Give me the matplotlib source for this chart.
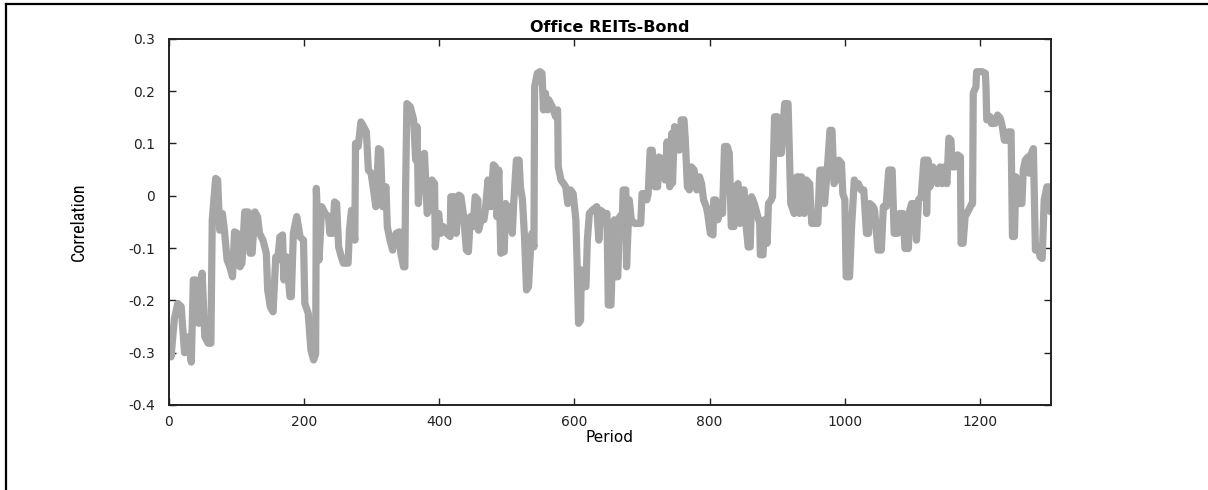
import matplotlib
matplotlib.use("Agg")
import matplotlib.pyplot as plt
from matplotlib.lines import Line2D
from matplotlib import font_manager

# rolling correlation
period = [0, 3, 8, 13, 18, 23, 28, 33, 36, 40, 44, 49, 53, 58, 62, 64, 69, 72, 75, 79,
          82, 86, 90, 94, 97, 101, 105, 108, 112, 117, 120, 123, 127, 131, 134, 139, 144, 146, 150, 154,
          158, 161, 164, 168, 170, 174, 179, 181, 184, 189, 194, 199, 201, 206, 210, 214, 217, 218, 222, 226,
          231, 236, 238, 242, 245, 248, 251, 255, 258, 265, 267, 270, 275, 276, 280, 284, 288, 292, 295, 299,
          302, 306, 310, 313, 316, 321, 323, 327, 331, 336, 341, 343, 347, 349, 350, 352, 357, 362, 365, 367,
          369, 373, 378, 382, 387, 389, 393, 394, 399, 402, 406, 411, 416, 417, 422, 425, 429, 432, 436, 440,
          443, 446, 450, 453, 457, 458, 462, 466, 468, 472, 476, 480, 483, 485, 488, 491, 496, 498, 501, 505,
          508, 510, 514, 518, 520, 523, 526, 529, 532, 535, 537, 540, 541, 545, 549, 552, 554, 557, 560, 562,
          567, 572, 575, 576, 580, 584, 587, 590, 594, 598, 602, 604, 606, 609, 610, 613, 617, 619, 622, 626,
          633, 636, 639, 644, 648, 650, 654, 656, 659, 661, 664, 667, 671, 672, 676, 677, 681, 684, 689, 693,
          698, 700, 703, 707, 709, 712, 715, 719, 723, 725, 730, 734, 737, 741, 744, 745, 748, 752, 755, 758,
          762, 764, 767, 770, 773, 777, 781, 785, 788, 791, 795, 797, 801, 805, 806, 809, 812, 816, 819, 822,
          826, 829, 832, 836, 838, 842, 845, 847, 851, 854, 857, 860, 862, 866, 870, 874, 875, 879, 881, 885,
          887, 891, 893, 896, 900, 902, 906, 911, 916, 918, 920, 925, 929, 932, 933, 936, 940, 943, 948, 951,
          955, 960, 963, 968, 970, 974, 978, 981, 984, 987, 991, 995, 997, 1000, 1002, 1007, 1010, 1014, 1017, 1020,
          1024, 1028, 1032, 1035, 1037, 1042, 1044, 1049, 1054, 1057, 1061, 1065, 1070, 1073, 1078, 1081, 1086, 1089, 1094, 1096,
          1099, 1103, 1106, 1109, 1113, 1117, 1120, 1121, 1123, 1126, 1130, 1134, 1137, 1141, 1144, 1147, 1151, 1154, 1157, 1159,
          1163, 1167, 1171, 1172, 1175, 1178, 1183, 1188, 1189, 1190, 1194, 1195, 1203, 1208, 1209, 1210, 1215, 1217, 1222, 1226,
          1230, 1233, 1236, 1240, 1242, 1246, 1248, 1251, 1253, 1257, 1262, 1264, 1267, 1271, 1273, 1276, 1279, 1282, 1286, 1289,
          1292, 1295, 1299, 1302, 1304]
corr = [-0.263, -0.308, -0.235, -0.206, -0.212, -0.300, -0.270, -0.318, -0.161, -0.161, -0.244, -0.148, -0.270, -0.282, -0.282, -0.046, 0.033, 0.030, -0.066, -0.034,
        -0.066, -0.123, -0.136, -0.155, -0.069, -0.072, -0.136, -0.129, -0.031, -0.031, -0.110, -0.110, -0.031, -0.040, -0.072, -0.085, -0.110, -0.180, -0.213, -0.222,
        -0.117, -0.123, -0.079, -0.075, -0.161, -0.117, -0.193, -0.193, -0.072, -0.040, -0.079, -0.085, -0.206, -0.225, -0.295, -0.314, -0.302, 0.014, -0.123, -0.021,
        -0.034, -0.040, -0.072, -0.072, -0.012, -0.015, -0.098, -0.117, -0.129, -0.129, -0.066, -0.028, -0.085, 0.100, 0.094, 0.141, 0.132, 0.122, 0.049, 0.043,
        0.017, -0.021, 0.090, 0.087, -0.021, 0.017, -0.059, -0.085, -0.104, -0.072, -0.069, -0.110, -0.136, -0.136, 0.004, 0.176, 0.170, 0.145, 0.068, 0.132,
        -0.015, 0.074, 0.081, -0.034, -0.021, 0.030, 0.023, -0.098, -0.034, -0.072, -0.059, -0.072, -0.078, -0.002, -0.002, -0.072, 0.001, -0.002, -0.040, -0.104,
        -0.107, -0.040, -0.059, -0.002, -0.008, -0.066, -0.046, -0.046, -0.028, 0.030, -0.021, 0.059, 0.055, -0.040, 0.049, -0.110, -0.107, -0.015, -0.028, -0.021,
        -0.072, -0.015, 0.068, 0.068, 0.017, -0.008, -0.078, -0.180, -0.174, -0.098, -0.072, -0.098, 0.208, 0.234, 0.237, 0.234, 0.164, 0.196, 0.164, 0.183,
        0.170, 0.151, 0.164, 0.055, 0.030, 0.023, 0.017, -0.015, 0.011, 0.004, -0.046, -0.136, -0.244, -0.238, -0.142, -0.174, -0.174, -0.085, -0.034, -0.028,
        -0.021, -0.085, -0.028, -0.034, -0.034, -0.209, -0.209, -0.123, -0.046, -0.155, -0.155, -0.040, -0.034, 0.011, 0.011, -0.136, -0.008, -0.046, -0.053, -0.053,
        -0.053, 0.004, 0.004, -0.008, 0.004, 0.087, 0.087, 0.017, 0.017, 0.074, 0.068, 0.030, 0.103, 0.017, 0.119, 0.024, 0.132, 0.113, 0.087, 0.145,
        0.145, 0.106, 0.017, 0.011, 0.055, 0.049, 0.011, 0.036, 0.023, -0.008, -0.021, -0.034, -0.072, -0.075, -0.008, -0.008, -0.046, -0.028, -0.034, 0.094,
        0.094, 0.081, -0.059, -0.059, 0.017, 0.023, -0.053, 0.011, 0.011, -0.059, -0.098, -0.098, -0.002, -0.015, -0.034, -0.053, -0.113, -0.113, -0.046, -0.091,
        -0.015, -0.008, -0.002, 0.151, 0.151, 0.081, 0.081, 0.176, 0.176, 0.081, -0.015, -0.034, 0.036, 0.036, -0.034, 0.036, -0.034, 0.030, 0.023, -0.053,
        -0.053, -0.053, 0.049, 0.049, -0.015, 0.049, 0.125, 0.125, 0.023, 0.030, 0.068, 0.062, 0.004, -0.008, -0.155, -0.155, -0.059, 0.030, 0.017, 0.023,
        0.011, 0.011, -0.072, -0.072, -0.015, -0.021, -0.028, -0.104, -0.104, -0.021, -0.021, 0.049, 0.049, -0.072, -0.072, -0.034, -0.034, -0.101, -0.101, -0.028,
        -0.015, -0.015, -0.085, -0.008, -0.002, 0.068, 0.068, -0.034, 0.068, 0.017, 0.055, 0.049, 0.023, 0.055, 0.023, 0.055, 0.023, 0.110, 0.106, 0.055,
        0.055, 0.078, 0.074, -0.091, -0.091, -0.040, -0.028, -0.015, -0.015, 0.196, 0.208, 0.237, 0.237, 0.234, 0.202, 0.145, 0.151, 0.138, 0.138, 0.154,
        0.148, 0.132, 0.106, 0.106, 0.122, 0.122, -0.078, -0.078, 0.036, -0.015, -0.015, 0.049, 0.068, 0.074, 0.043, 0.081, 0.090, -0.104, -0.098, -0.117,
        -0.120, -0.008, 0.017, 0.017, -0.030]

xticks = [0, 200, 400, 600, 800, 1000, 1200]
yticks = [-0.4, -0.3, -0.2, -0.1, 0, 0.1, 0.2, 0.3]
ytick_labels = ['-0.4', '-0.3', '-0.2', '-0.1', '0', '0.1', '0.2', '0.3']

plt.rcParams['font.family'] = ['DejaVu Sans']
plt.rcParams['axes.unicode_minus'] = False

# narrow face for the y label if one is around
installed = {f.name for f in font_manager.fontManager.ttflist}
narrow = [n for n in ['Liberation Sans Narrow', 'Roboto Condensed', 'Open Sans Condensed',
                      'DejaVu Sans Condensed'] if n in installed]
ylab_family = narrow[0] if narrow else 'DejaVu Sans'
ylab_size = 13 if narrow else 11

fig = plt.figure(figsize=(12.08, 4.90), dpi=100)
ax = fig.add_axes([0.1399, 0.1735, 0.7301, 0.7475])

ax.plot(period, corr, color='#a6a6a6', lw=5.2,
        solid_joinstyle='round', solid_capstyle='round')

ax.set_xlim(0, 1305)
ax.set_ylim(-0.4, 0.3)
ax.set_xticks(xticks)
ax.set_xticklabels([str(t) for t in xticks])
ax.set_yticks(yticks)
ax.set_yticklabels(ytick_labels)

ax.tick_params(direction='in', length=5, width=1, top=True, right=True,
               labelsize=10, colors='#222222')
ax.tick_params(axis='y', pad=10)
ax.tick_params(axis='x', pad=7)
for s in ax.spines.values():
    s.set_linewidth(1.4)
    s.set_color('#222222')

ax.set_title('Office REITs-Bond', fontsize=11.5, fontweight='bold', pad=5)
ax.set_xlabel('Period', fontsize=11)
ax.xaxis.set_label_coords(0.5, -0.068)
ax.set_ylabel('Correlation', fontsize=ylab_size, family=ylab_family)
ax.yaxis.set_label_coords(-0.092, 0.5)

# partial frame around the figure (top and left edges)
fig.add_artist(Line2D([0.005, 0.005], [0.0, 0.991], transform=fig.transFigure,
                      color='black', lw=1.6))
fig.add_artist(Line2D([0.005, 1.0], [0.991, 0.991], transform=fig.transFigure,
                      color='black', lw=1.6))

fig.savefig('out.png', dpi=100)
